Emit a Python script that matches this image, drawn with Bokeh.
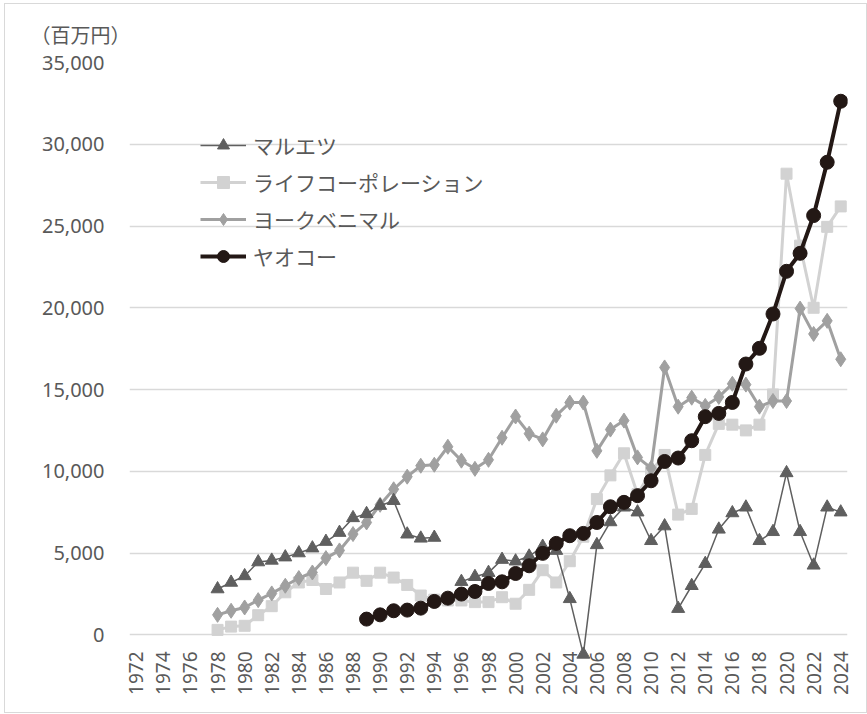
import math
from bokeh.plotting import figure
from bokeh.models import (FixedTicker, NumeralTickFormatter, Legend, LegendItem,
                          Range1d, Title)
from bokeh.embed import file_html
from bokeh.resources import INLINE

NaN = float("nan")

# ---- data (百万円) ----
years_main = list(range(1978, 2025))
years_yaoko = list(range(1989, 2025))

marumetsu = [2800, 3200, 3600, 4450, 4550, 4750, 5000, 5300, 5700, 6250,   # 1978-1987
             7150, 7400, 7900, 8200, 6150, 5900, 5950, NaN, 3250, 3550,    # 1988-1997
             3800, 4600, 4500, 4800, 5400, 5150, 2200, -1200, 5500, 6900,  # 1998-2007
             7800, 7500, 5750, 6650, 1600, 3000, 4350, 6450, 7450, 7800,   # 2008-2017
             5750, 6300, 9900, 6300, 4250, 7800, 7500]                     # 2018-2024

life = [300, 500, 550, 1200, 1750, 2600, 3200, 3350, 2800, 3200,          # 1978-1987
        3800, 3300, 3800, 3500, 3050, 2400, 2150, 2100, 2100, 2000,       # 1988-1997
        2000, 2300, 1900, 2750, 3950, 3200, 4500, 6000, 8300, 9750,       # 1998-2007
        11100, 8600, 10000, 11000, 7350, 7700, 11000, 12900, 12850, 12500, # 2008-2017
        12850, 14700, 28200, 23800, 20000, 24950, 26200]                  # 2018-2024

york = [1220, 1470, 1670, 2120, 2530, 3000, 3470, 3810, 4690, 5160,       # 1978-1987
        6160, 6870, 7950, 8900, 9670, 10340, 10400, 11500, 10650, 10150,  # 1988-1997
        10700, 12050, 13350, 12300, 11950, 13400, 14200, 14200, 11250, 12550,  # 1998-2007
        13100, 10850, 10200, 16350, 13950, 14500, 14000, 14550, 15350, 15300,  # 2008-2017
        13950, 14300, 14300, 19950, 18400, 19200, 16850]                  # 2018-2024

yaoko = [960, 1220, 1470, 1510, 1630, 2040, 2240, 2490, 2650,             # 1989-1997
         3140, 3240, 3750, 4220, 4980, 5590, 6060, 6200, 6870, 7830,      # 1998-2007
         8100, 8510, 9420, 10600, 10810, 11870, 13340, 13540, 14210, 16560,  # 2008-2017
         17520, 19620, 22230, 23330, 25640, 28900, 32630]                 # 2018-2024

series_names = ["マルエツ", "ライフコーポレーション", "ヨークベニマル", "ヤオコー"]
x_tick_years = list(range(1972, 2025, 2))
y_ticks = [0, 5000, 10000, 15000, 20000, 25000, 30000, 35000]
y_unit_label = "（百万円）"

# ---- styles ----
C_MARU = "#5f5f5f"
C_LIFE = "#d2d2d2"
C_YORK = "#a0a0a0"
C_YAOKO = "#231815"
TXT = "#595959"
GRID = "#d9d9d9"

p = figure(frame_width=718, frame_height=605,
           x_range=Range1d(1971.5, 2024.5), y_range=Range1d(-2000, 35000),
           output_backend="svg", toolbar_location=None,
           min_border_left=124, min_border_right=19,
           min_border_top=58, min_border_bottom=45,
           background_fill_color="white", border_fill_color="white")
p.margin = (3, 0, 0, 4)
p.styles = {"border": "1px solid #d9d9d9"}
p.outline_line_color = None

# grid
p.xgrid.grid_line_color = None
p.ygrid.grid_line_color = GRID
p.ygrid.grid_line_width = 1.5
p.ygrid.ticker = FixedTicker(ticks=y_ticks)

# y axis
ya = p.yaxis[0]
ya.ticker = FixedTicker(ticks=y_ticks)
ya.formatter = NumeralTickFormatter(format="0,0")
ya.axis_line_color = None
ya.major_tick_line_color = None
ya.minor_tick_line_color = None
ya.major_tick_in = 0
ya.major_tick_out = 0
ya.major_label_standoff = 25
ya.major_label_text_font = "Noto Sans"
ya.major_label_text_font_size = "20px"
ya.major_label_text_color = TXT

# x axis
xa = p.xaxis[0]
xa.ticker = FixedTicker(ticks=x_tick_years)
xa.axis_line_color = None
xa.major_tick_line_color = None
xa.minor_tick_line_color = None
xa.major_tick_in = 0
xa.major_tick_out = 0
xa.major_label_orientation = math.pi / 2
xa.major_label_standoff = -16
xa.major_label_text_font = "Noto Sans"
xa.major_label_text_font_size = "19px"
xa.major_label_text_color = TXT

# series (drawing order: life, york, marumetsu, yaoko)
life_l = p.line(years_main, life, line_color=C_LIFE, line_width=3)
life_s = p.scatter(years_main, life, marker="square", size=11,
                   fill_color=C_LIFE, line_color=C_LIFE)
york_l = p.line(years_main, york, line_color=C_YORK, line_width=3)
york_s = p.scatter(years_main, york, marker="diamond", size=15,
                   fill_color=C_YORK, line_color=C_YORK)
maru_l = p.line(years_main, marumetsu, line_color=C_MARU, line_width=1.5)
maru_s = p.scatter(years_main, marumetsu, marker="triangle", size=13,
                   fill_color=C_MARU, line_color=C_MARU)
yao_l = p.line(years_yaoko, yaoko, line_color=C_YAOKO, line_width=4)
yao_s = p.scatter(years_yaoko, yaoko, marker="circle", size=14,
                  fill_color=C_YAOKO, line_color=C_YAOKO)

legend = Legend(items=[
    LegendItem(label=series_names[0], renderers=[maru_l, maru_s]),
    LegendItem(label=series_names[1], renderers=[life_l, life_s]),
    LegendItem(label=series_names[2], renderers=[york_l, york_s]),
    LegendItem(label=series_names[3], renderers=[yao_l, yao_s]),
], location=(71, 396))
legend.padding = 0
legend.margin = 0
legend.spacing = 7
legend.glyph_width = 46
legend.glyph_height = 30
legend.label_height = 30
legend.label_standoff = 7
legend.border_line_color = None
legend.background_fill_alpha = 0
legend.label_text_font = "Noto Sans CJK JP"
legend.label_text_font_size = "21px"
legend.label_text_color = TXT
p.add_layout(legend, "center")

title = Title(text=y_unit_label, align="left", offset=-99, standoff=27,
              text_font="Noto Sans CJK JP", text_font_size="20px",
              text_font_style="normal", text_color=TXT)
p.add_layout(title, "above")

open("out.html", "w").write(file_html(p, INLINE))
